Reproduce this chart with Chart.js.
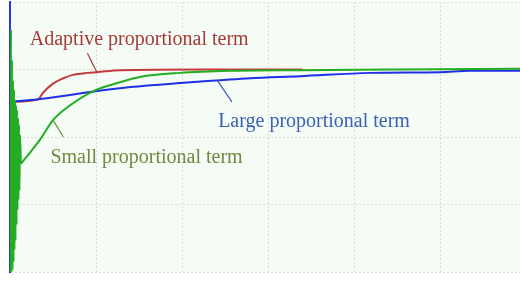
<!DOCTYPE html>
<html>

<head>
    <meta charset='utf-8'>
    <title>Proportional term comparison</title>
    <script src="https://cdn.jsdelivr.net/npm/chart.js@4.4.0/dist/chart.umd.min.js"></script>
    <style>
        body { margin: 0; background: #ffffff; }
    </style>
</head>

<body>
    <div style="width:520px;height:282px">
        <canvas id="chart" width="520" height="282"></canvas>
    </div>
    <script>
        // step responses (x in grid units, y in grid units, setpoint = 3)
        var adaptive_x = [0, 0.33, 0.38, 0.50, 0.62, 0.73, 0.90, 1.01, 1.28, 2.21, 3.40];
        var adaptive_y = [2.52, 2.56, 2.65, 2.79, 2.87, 2.92, 2.95, 2.96, 2.99, 3.00, 3.00];

        var large_x = [0, 0.33, 1.01, 1.40, 1.98, 2.44, 2.79, 3.37, 4.19, 5.00, 5.35, 5.93];
        var large_y = [2.52, 2.56, 2.68, 2.74, 2.80, 2.84, 2.87, 2.90, 2.95, 2.96, 2.98, 2.98];

        var small_x = [0.006, 0.012, 0.017, 0.023, 0.029, 0.035, 0.041, 0.047, 0.052, 0.058, 0.064, 0.070,
            0.076, 0.081, 0.087, 0.093, 0.099, 0.105, 0.110, 0.116, 0.128,
            0.163, 0.233, 0.349, 0.50, 0.70, 0.97, 1.28, 1.51, 1.98, 2.56, 3.37, 4.53, 5.93];
        var small_y = [0, 3.59, 0, 3.14, 0.03, 2.84, 0.15, 2.70, 0.33, 2.55, 0.47, 2.47,
            0.70, 2.40, 0.92, 2.28, 1.07, 2.18, 1.21, 2.03, 1.61,
            1.66, 1.77, 1.96, 2.25, 2.47, 2.68, 2.81, 2.89, 2.95, 2.98, 2.99, 3.00, 3.01];

        // labels: text, anchor (baseline left), leader line start/end
        var label_text = ['Adaptive proportional term', 'Large proportional term', 'Small proportional term'];
        var label_x = [0.23, 2.42, 0.47];
        var label_y = [3.36, 2.15, 1.61];
        var leader_from = [[0.90, 3.24], [2.41, 2.84], [0.50, 2.25]];
        var leader_to = [[1.01, 2.96], [2.58, 2.52], [0.62, 2.00]];
        var label_color = ['#a63a3a', '#3b5fb5', '#6f8a3d'];

        function pts(xs, ys) {
            return xs.map((x, i) => ({ x: x, y: ys[i] }));
        }

        var plotBg = {
            id: 'plotBg',
            beforeDraw(chart) {
                var a = chart.chartArea, ctx = chart.ctx;
                ctx.save();
                ctx.fillStyle = '#f5fcf5';
                ctx.fillRect(a.left, a.top, a.right - a.left, a.bottom - a.top);
                ctx.restore();
            }
        };

        var labels = {
            id: 'labels',
            afterDatasetsDraw(chart) {
                var ctx = chart.ctx, sx = chart.scales.x, sy = chart.scales.y;
                ctx.save();
                ctx.font = '20px "Liberation Serif", "DejaVu Serif", serif';
                ctx.textBaseline = 'alphabetic';
                for (var i = 0; i < label_text.length; i++) {
                    ctx.strokeStyle = label_color[i];
                    ctx.lineWidth = 1.2;
                    ctx.beginPath();
                    ctx.moveTo(sx.getPixelForValue(leader_from[i][0]), sy.getPixelForValue(leader_from[i][1]));
                    ctx.lineTo(sx.getPixelForValue(leader_to[i][0]), sy.getPixelForValue(leader_to[i][1]));
                    ctx.stroke();
                    ctx.fillStyle = label_color[i];
                    ctx.fillText(label_text[i], sx.getPixelForValue(label_x[i]), sy.getPixelForValue(label_y[i]));
                }
                ctx.restore();
            }
        };

        var ctx = document.getElementById('chart').getContext('2d');
        var chart = new Chart(ctx, {
            type: 'scatter',
            data: {
                datasets: [
                    {
                        label: 'Small proportional term',
                        data: pts(small_x, small_y),
                        showLine: true,
                        borderColor: '#22ad22',
                        borderWidth: 2,
                        pointRadius: 0,
                        cubicInterpolationMode: 'monotone',
                    },
                    {
                        label: 'Large proportional term',
                        data: pts(large_x, large_y),
                        showLine: true,
                        borderColor: '#1f2fe6',
                        borderWidth: 2,
                        pointRadius: 0,
                        cubicInterpolationMode: 'monotone',
                    },
                    {
                        label: 'Adaptive proportional term',
                        data: pts(adaptive_x, adaptive_y),
                        showLine: true,
                        borderColor: '#c43b3b',
                        borderWidth: 2,
                        pointRadius: 0,
                        cubicInterpolationMode: 'monotone',
                    },
                ]
            },
            options: {
                responsive: false,
                animation: false,
                layout: { padding: { left: 10, top: 2, right: 0, bottom: 10 } },
                plugins: {
                    legend: { display: false },
                    tooltip: { enabled: false }
                },
                scales: {
                    x: {
                        type: 'linear',
                        min: 0,
                        max: 5.93,
                        ticks: { display: false, stepSize: 1 },
                        grid: { color: '#d9ded9', drawTicks: false, lineWidth: 1 },
                        border: { display: false, dash: [2, 2] }
                    },
                    y: {
                        min: 0,
                        max: 4,
                        ticks: { display: false, stepSize: 1 },
                        grid: { color: '#d9ded9', drawTicks: false, lineWidth: 1 },
                        border: { display: true, color: '#2a3ae0', width: 2, dash: [2, 2] }
                    }
                }
            },
            plugins: [plotBg, labels]
        });
    </script>
</body>

</html>
